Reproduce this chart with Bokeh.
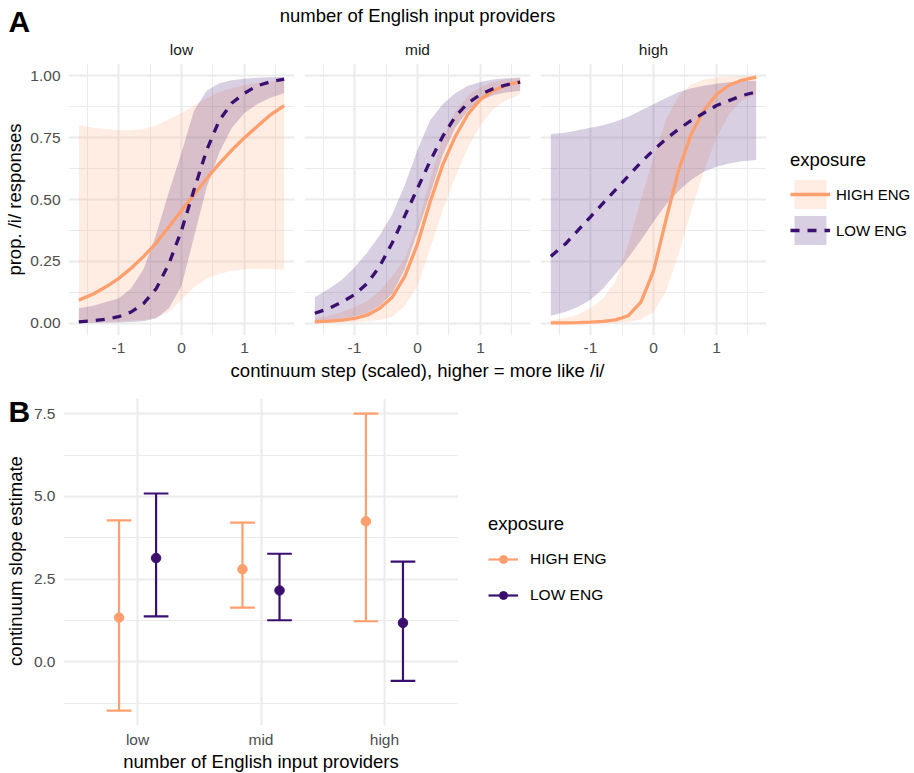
import numpy as np
from bokeh.plotting import figure
from bokeh.models import (Range1d, FixedTicker, Legend, LegendItem,
                          NumeralTickFormatter, ColumnDataSource)
from bokeh.layouts import row, column
from bokeh.core.properties import value
from bokeh.embed import file_html
from bokeh.resources import INLINE

FONT = "Liberation Sans"
HIGH_COL = "#FE9F6D"
LOW_COL = "#3B0F70"
GRID = "#EBEBEB"
TICK_COL = "#4D4D4D"
SMALL = "15.5px"
BIG = "18.5px"

# ---------------- panel A data ----------------
providers = ["low", "mid", "high"]
exposures = ["HIGH ENG", "LOW ENG"]
step = [-1.63, -1.4, -1.2, -1.0, -0.8, -0.6, -0.4, -0.2, 0.0,
        0.2, 0.4, 0.6, 0.8, 1.0, 1.2, 1.4, 1.63]

low_high_fit = [0.093, 0.118, 0.147, 0.180, 0.222, 0.270, 0.325, 0.390, 0.455, 0.520, 0.585, 0.645, 0.700, 0.750, 0.795, 0.840, 0.880]
low_high_lo = [0.003, 0.004, 0.005, 0.007, 0.010, 0.014, 0.022, 0.045, 0.095, 0.145, 0.180, 0.200, 0.212, 0.218, 0.220, 0.219, 0.216]
low_high_hi = [0.800, 0.790, 0.785, 0.780, 0.780, 0.785, 0.800, 0.825, 0.850, 0.880, 0.910, 0.935, 0.950, 0.962, 0.970, 0.976, 0.980]
low_low_fit = [0.005, 0.010, 0.016, 0.026, 0.045, 0.080, 0.140, 0.240, 0.375, 0.540, 0.700, 0.820, 0.890, 0.930, 0.960, 0.975, 0.987]
low_low_lo = [0.000, 0.001, 0.002, 0.003, 0.005, 0.008, 0.020, 0.060, 0.150, 0.350, 0.550, 0.690, 0.790, 0.850, 0.885, 0.910, 0.930]
low_low_hi = [0.060, 0.070, 0.085, 0.100, 0.140, 0.220, 0.360, 0.530, 0.690, 0.860, 0.940, 0.970, 0.982, 0.988, 0.992, 0.994, 0.995]

mid_high_fit = [0.005, 0.008, 0.012, 0.019, 0.032, 0.060, 0.105, 0.190, 0.320, 0.490, 0.640, 0.755, 0.845, 0.905, 0.940, 0.962, 0.977]
mid_high_lo = [0.001, 0.002, 0.003, 0.005, 0.008, 0.013, 0.025, 0.070, 0.150, 0.300, 0.455, 0.590, 0.710, 0.800, 0.865, 0.900, 0.926]
mid_high_hi = [0.020, 0.030, 0.045, 0.065, 0.090, 0.130, 0.190, 0.260, 0.400, 0.580, 0.750, 0.855, 0.920, 0.955, 0.975, 0.985, 0.990]
mid_low_fit = [0.040, 0.060, 0.085, 0.115, 0.160, 0.230, 0.325, 0.435, 0.545, 0.655, 0.755, 0.835, 0.890, 0.925, 0.948, 0.963, 0.975]
mid_low_lo = [0.008, 0.012, 0.018, 0.027, 0.040, 0.070, 0.120, 0.220, 0.370, 0.520, 0.680, 0.790, 0.860, 0.900, 0.922, 0.933, 0.940]
mid_low_hi = [0.105, 0.140, 0.175, 0.225, 0.285, 0.355, 0.440, 0.560, 0.700, 0.820, 0.885, 0.930, 0.960, 0.975, 0.985, 0.990, 0.993]

high_high_fit = [0.001, 0.001, 0.002, 0.004, 0.007, 0.013, 0.030, 0.085, 0.210, 0.420, 0.620, 0.765, 0.860, 0.925, 0.962, 0.982, 0.995]
high_high_lo = [0.000, 0.000, 0.000, 0.001, 0.001, 0.002, 0.005, 0.015, 0.045, 0.130, 0.280, 0.455, 0.615, 0.750, 0.845, 0.900, 0.926]
high_high_hi = [0.012, 0.020, 0.035, 0.060, 0.100, 0.170, 0.320, 0.500, 0.670, 0.825, 0.920, 0.965, 0.985, 0.994, 0.997, 0.999, 1.000]
high_low_fit = [0.270, 0.320, 0.375, 0.430, 0.485, 0.540, 0.595, 0.650, 0.700, 0.745, 0.785, 0.820, 0.850, 0.880, 0.900, 0.920, 0.935]
high_low_lo = [0.030, 0.045, 0.065, 0.095, 0.140, 0.200, 0.265, 0.335, 0.410, 0.480, 0.535, 0.580, 0.612, 0.632, 0.646, 0.655, 0.660]
high_low_hi = [0.765, 0.770, 0.780, 0.790, 0.800, 0.815, 0.835, 0.860, 0.885, 0.910, 0.935, 0.950, 0.960, 0.968, 0.974, 0.978, 0.980]

# ---------------- panel B data ----------------
high_est = [1.34, 2.80, 4.25]
high_lower = [-1.47, 1.64, 1.23]
high_upper = [4.28, 4.21, 7.50]
low_est = [3.14, 2.16, 1.18]
low_lower = [1.38, 1.26, -0.57]
low_upper = [5.09, 3.27, 3.03]

# ---------------- layout constants (pixels) ----------------
W = 914
HEAD_H = 63
FRAME_W, FRAME_H = 226, 272
FAC_BOTTOM = 26
FAC_H = FRAME_H + FAC_BOTTOM
BAND_H = 23
B_TOP, B_FRAME, B_BOTTOM = 14, 327, 47
BOT_H = B_TOP + B_FRAME + B_BOTTOM
FAC_LEFT0 = 68
GAP = 5
STRIP_W = 30
B_ROW_Y = HEAD_H + FAC_H + BAND_H          # page y of the bottom row
B_FRAME_BOTTOM = B_ROW_Y + B_TOP + B_FRAME  # page y of panel B frame bottom


def base_style(p):
    p.background_fill_color = "white"
    p.border_fill_color = "white"
    p.outline_line_color = None
    for ax in p.axis:
        ax.axis_line_color = None
        ax.major_tick_line_color = None
        ax.minor_tick_line_color = None
        ax.major_tick_out = 0
        ax.major_tick_in = 0
        ax.minor_tick_out = 0
        ax.minor_tick_in = 0
        ax.major_label_text_font = FONT
        ax.major_label_text_font_size = SMALL
        ax.major_label_text_color = TICK_COL
        ax.axis_label_text_font = FONT
        ax.axis_label_text_font_size = BIG
        ax.axis_label_text_font_style = "normal"
        ax.axis_label_text_color = "#000000"
    for g in p.grid:
        g.grid_line_color = GRID
        g.grid_line_width = 2
        g.minor_grid_line_color = GRID
        g.minor_grid_line_width = 1


def blank(width, height, top=0, bottom=0, xr=None, yr=None):
    p = figure(width=width, height=height,
               min_border_left=0, min_border_right=0, min_border_top=top, min_border_bottom=bottom,
               x_range=xr if xr is not None else Range1d(0, width),
               y_range=yr if yr is not None else Range1d(0, height - top - bottom),
               x_axis_location=None, y_axis_location=None,
               output_backend="svg", toolbar_location=None, tools="")
    p.outline_line_color = None
    p.grid.visible = False
    p.background_fill_color = "white"
    p.border_fill_color = "white"
    return p


def add_text(p, x, y, txt, size, align="left", baseline="alphabetic", bold=False,
             color="#000000", angle=0.0):
    p.text(x=[x], y=[y], text=[txt], text_font=value(FONT), text_font_size=value(size),
           text_font_style="bold" if bold else "normal", text_align=align,
           text_baseline=baseline, text_color=color, angle=angle)


def make_facet(hf, hl, hh, lf, ll, lh, left, right, first):
    p = figure(frame_width=FRAME_W, frame_height=FRAME_H,
               min_border_left=left, min_border_right=right,
               min_border_top=0, min_border_bottom=FAC_BOTTOM,
               x_range=Range1d(-1.794, 1.794), y_range=Range1d(-0.05, 1.05),
               output_backend="svg", toolbar_location=None, tools="",
               y_axis_location="left" if first else None)
    xt = FixedTicker(ticks=[-1, 0, 1], minor_ticks=[-1.5, -0.5, 0.5, 1.5])
    yt = FixedTicker(ticks=[0, 0.25, 0.5, 0.75, 1.0],
                     minor_ticks=[0.125, 0.375, 0.625, 0.875])
    p.xaxis.ticker = xt
    p.xaxis.formatter = NumeralTickFormatter(format="0")
    p.xgrid.ticker = xt
    p.ygrid.ticker = yt
    if first:
        p.yaxis.ticker = yt
        p.yaxis.formatter = NumeralTickFormatter(format="0.00")
        p.yaxis.axis_label = "prop. /i/ responses"
    base_style(p)
    p.xaxis.major_label_standoff = 7
    if first:
        p.yaxis.major_label_standoff = 8
        p.yaxis.axis_label_standoff = 2

    src_h = ColumnDataSource(dict(x=step, fit=hf, lo=hl, hi=hh))
    src_l = ColumnDataSource(dict(x=step, fit=lf, lo=ll, hi=lh))
    for src, col in [(src_h, HIGH_COL), (src_l, LOW_COL)]:
        p.varea(x="x", y1="lo", y2="hi", source=src, fill_color=col, fill_alpha=0.2)
    p.line("x", "fit", source=src_h, line_color=HIGH_COL, line_width=3.3)
    p.line("x", "fit", source=src_l, line_color=LOW_COL, line_width=3.3, line_dash="9 8")
    return p, src_h, src_l


# ---------- header: panel letter, title, facet strips ----------
head = blank(W, HEAD_H)
centers = [FAC_LEFT0 + FRAME_W / 2 + i * (FRAME_W + 2 * GAP) for i in range(3)]
add_text(head, 8, HEAD_H - 21, "A", "30px", bold=True)
add_text(head, (centers[0] + centers[2]) / 2, HEAD_H - 15.2,
         "number of English input providers", BIG, align="center")
for c, name in zip(centers, providers):
    add_text(head, c, HEAD_H - 49.3, name, SMALL, align="center", color="#1A1A1A")

# ---------- facets ----------
f_low, _, _ = make_facet(low_high_fit, low_high_lo, low_high_hi,
                         low_low_fit, low_low_lo, low_low_hi, FAC_LEFT0, GAP, True)
f_mid, _, _ = make_facet(mid_high_fit, mid_high_lo, mid_high_hi,
                         mid_low_fit, mid_low_lo, mid_low_hi, GAP, GAP, False)
f_high, sh, sl = make_facet(high_high_fit, high_high_lo, high_high_hi,
                            high_low_fit, high_low_lo, high_low_hi, GAP, 0, False)

# ---------- legend of panel A (own figure, frame aligned with the facets) ----------
leg_w = W - (FAC_LEFT0 + 3 * FRAME_W + 4 * GAP)
la = blank(leg_w, FAC_H, top=0, bottom=FAC_BOTTOM, xr=Range1d(100, 101), yr=Range1d(100, 101))
ra_h = la.varea(x="x", y1="lo", y2="hi", source=sh, fill_color=HIGH_COL, fill_alpha=0.2)
ra_l = la.varea(x="x", y1="lo", y2="hi", source=sl, fill_color=LOW_COL, fill_alpha=0.2)
la_h = la.line("x", "fit", source=sh, line_color=HIGH_COL, line_width=3.3)
la_l = la.line("x", "fit", source=sl, line_color=LOW_COL, line_width=3.3, line_dash="9 8")
leg_a = Legend(items=[LegendItem(label=exposures[0], renderers=[ra_h, la_h]),
                      LegendItem(label=exposures[1], renderers=[ra_l, la_l])],
               location=(24, (HEAD_H + FRAME_H) - 248), title="exposure",
               glyph_width=40, glyph_height=36, spacing=0, padding=0, margin=0,
               label_standoff=6, border_line_color=None, background_fill_alpha=0,
               label_text_font=FONT, label_text_font_size="15px",
               label_text_color="#000000",
               title_text_font=FONT, title_text_font_size=BIG,
               title_text_font_style="normal", title_text_color="#000000",
               title_standoff=5)
la.add_layout(leg_a)

# ---------- band: x-axis title of panel A ----------
band = blank(W, BAND_H)
add_text(band, (centers[0] + centers[2]) / 2, BAND_H - 9.2,
         "continuum step (scaled), higher = more like /i/", BIG, align="center")

# ---------- panel B ----------
strip = blank(STRIP_W, BOT_H, top=B_TOP, bottom=B_BOTTOM)
add_text(strip, 8, B_FRAME_BOTTOM - 411, "B", "30px", bold=True)
add_text(strip, 15, B_FRAME_BOTTOM - 561.5, "continuum slope estimate", BIG, align="center",
         baseline="middle", angle=np.pi / 2)

pb = figure(frame_width=395, frame_height=B_FRAME, min_border_left=60 - STRIP_W, min_border_right=0,
            min_border_top=B_TOP, min_border_bottom=B_BOTTOM,
            x_range=Range1d(0.4, 3.6), y_range=Range1d(-1.92, 7.96),
            output_backend="svg", toolbar_location=None, tools="")
pos = np.arange(1, len(providers) + 1)
bxt = FixedTicker(ticks=list(pos))
byt = FixedTicker(ticks=[0, 2.5, 5, 7.5], minor_ticks=[-1.25, 1.25, 3.75, 6.25])
pb.xaxis.ticker = bxt
pb.xgrid.ticker = bxt
pb.xaxis.major_label_overrides = {int(k): v for k, v in zip(pos, providers)}
pb.yaxis.ticker = byt
pb.ygrid.ticker = byt
pb.yaxis.formatter = NumeralTickFormatter(format="0.0")
pb.xaxis.axis_label = "number of English input providers"
base_style(pb)
pb.xaxis.major_label_standoff = 5
pb.xaxis.axis_label_standoff = 0
pb.yaxis.major_label_standoff = 8

lb = blank(160, BOT_H, top=B_TOP, bottom=B_BOTTOM, xr=Range1d(100, 101), yr=Range1d(100, 101))
items = []
for lab, est, lo, hi, off, col in [(exposures[0], high_est, high_lower, high_upper, -0.15, HIGH_COL),
                                   (exposures[1], low_est, low_lower, low_upper, 0.15, LOW_COL)]:
    xs = pos + off
    src = ColumnDataSource(dict(x=xs, xa=xs - 0.1, xb=xs + 0.1, est=est, lo=lo, hi=hi))
    pb.segment(x0="x", y0="lo", x1="x", y1="hi", source=src, line_color=col, line_width=2.2)
    pb.segment(x0="xa", y0="hi", x1="xb", y1="hi", source=src, line_color=col, line_width=2.2)
    pb.segment(x0="xa", y0="lo", x1="xb", y1="lo", source=src, line_color=col, line_width=2.2)
    pb.scatter("x", "est", source=src, size=9.5, fill_color=col, line_color=col)
    bar = lb.segment(x0="x", y0="lo", x1="x", y1="hi", source=src, line_color=col, line_width=2.2)
    pt = lb.scatter("x", "est", source=src, size=9.5, fill_color=col, line_color=col)
    items.append(LegendItem(label=lab, renderers=[bar, pt]))

leg_b = Legend(items=items, location=(30, B_FRAME_BOTTOM - 607), title="exposure",
               glyph_width=30, glyph_height=20, spacing=16, padding=0, margin=0,
               label_standoff=12, border_line_color=None, background_fill_alpha=0,
               label_text_font=FONT, label_text_font_size=SMALL,
               label_text_color="#000000",
               title_text_font=FONT, title_text_font_size=BIG,
               title_text_font_style="normal", title_text_color="#000000",
               title_standoff=14)
lb.add_layout(leg_b)

layout = column(head,
                row(f_low, f_mid, f_high, la),
                band,
                row(strip, pb, lb))
open("out.html", "w").write(file_html(layout, INLINE))
